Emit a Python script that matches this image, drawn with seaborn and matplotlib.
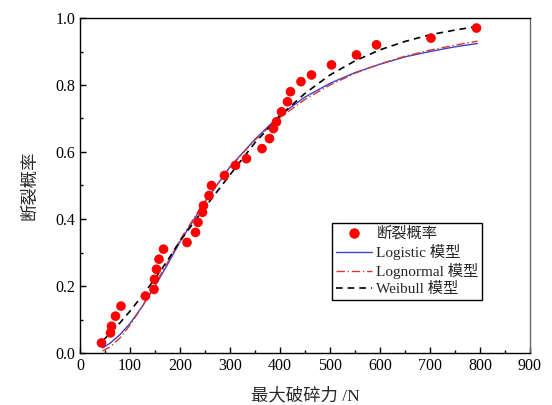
import numpy as np
import pandas as pd
import matplotlib
matplotlib.use("Agg")
import matplotlib.pyplot as plt
import seaborn as sns
from matplotlib.ticker import MultipleLocator
from matplotlib.lines import Line2D

# ---- data ----
force = [43, 61, 63, 71, 82, 131, 148, 149, 153, 158, 167, 214, 231, 236, 245, 247,
         258, 263, 289, 311, 333, 364, 379, 387, 393, 403, 415, 421, 442, 463, 503,
         553, 593, 702, 793]
prob = [0.03, 0.06, 0.08, 0.11, 0.14, 0.17, 0.19, 0.22, 0.25, 0.28, 0.31, 0.33, 0.36,
        0.39, 0.42, 0.44, 0.47, 0.50, 0.53, 0.56, 0.58, 0.61, 0.64, 0.67, 0.69, 0.72,
        0.75, 0.78, 0.81, 0.83, 0.86, 0.89, 0.92, 0.94, 0.97]

curve_x = [45, 60, 80, 100, 125, 150, 175, 200, 250, 300, 350, 400, 450, 500, 550,
           600, 650, 700, 750, 795]
logistic_y = [0.015, 0.029, 0.055, 0.088, 0.140, 0.200, 0.264, 0.332, 0.451, 0.556,
              0.638, 0.710, 0.764, 0.805, 0.837, 0.862, 0.884, 0.900, 0.914, 0.924]
lognormal_y = [0.006, 0.018, 0.045, 0.083, 0.140, 0.205, 0.270, 0.338, 0.453, 0.554,
               0.636, 0.703, 0.757, 0.800, 0.835, 0.863, 0.886, 0.904, 0.919, 0.931]
weibull_y = [0.036, 0.058, 0.090, 0.125, 0.172, 0.222, 0.276, 0.334, 0.435, 0.532,
             0.628, 0.708, 0.775, 0.830, 0.872, 0.905, 0.930, 0.950, 0.964, 0.975]

x_ticks = [0, 100, 200, 300, 400, 500, 600, 700, 800, 900]
y_ticks = [0.0, 0.2, 0.4, 0.6, 0.8, 1.0]

labels = ["断裂概率", "Logistic 模型", "Lognormal 模型", "Weibull 模型"]
xlabel = "最大破碎力 /N"
ylabel = "断裂概率"

# ---- styling ----
sns.set_style("ticks")
plt.rcParams['font.family'] = ['Liberation Serif', 'Noto Sans CJK SC', 'DejaVu Sans']
plt.rcParams['axes.unicode_minus'] = False

fig = plt.figure(figsize=(5.52, 4.05), dpi=100)
ax = fig.add_axes([80 / 552, 52 / 405, 450 / 552, 335 / 405])

pts = pd.DataFrame({"x": force, "y": prob})
curves = pd.DataFrame({"x": curve_x, "logistic": logistic_y,
                       "lognormal": lognormal_y, "weibull": weibull_y})

blue = "#4040c8"
red = "#d03a3a"
sns.lineplot(data=curves, x="x", y="logistic", ax=ax, color=blue,
             lw=1.0, linestyle="-")
sns.lineplot(data=curves, x="x", y="lognormal", ax=ax, color=red,
             lw=1.0, linestyle=(0, (6, 2, 1, 2)))
sns.lineplot(data=curves, x="x", y="weibull", ax=ax, color="black",
             lw=1.2, linestyle=(0, (4, 3)))
sns.scatterplot(data=pts, x="x", y="y", ax=ax, color="#ff0000", s=48,
                edgecolor="none", zorder=5)

ax.set_xlim(0, 900)
ax.set_ylim(0, 1.0)
ax.set_xticks(x_ticks)
ax.set_yticks(y_ticks)
ax.set_xticklabels([str(v) for v in x_ticks])
ax.set_yticklabels([f"{v:.1f}" for v in y_ticks])
ax.xaxis.set_minor_locator(MultipleLocator(50))
ax.yaxis.set_minor_locator(MultipleLocator(0.1))
ax.tick_params(which="both", direction="in", top=False, right=False,
               labelsize=11.5, colors="black", width=1.0)
ax.tick_params(which="major", length=4.5)
ax.tick_params(which="minor", length=2.5)
for sp in ax.spines.values():
    sp.set_visible(True)
    sp.set_linewidth(1.0)
    sp.set_color("black")
ax.spines["right"].set_color("#666666")

ax.set_xlabel(xlabel, fontsize=12.5, labelpad=10)
ax.set_ylabel(ylabel, fontsize=12.5, labelpad=12)

handles = [
    Line2D([], [], marker="o", color="#ff0000", linestyle="none", markersize=7.5,
           markeredgecolor="none"),
    Line2D([], [], color=blue, lw=1.0, linestyle="-"),
    Line2D([], [], color=red, lw=1.0, linestyle=(0, (6, 2, 1, 2))),
    Line2D([], [], color="black", lw=1.2, linestyle=(0, (4, 3))),
]
leg = ax.legend(handles, labels, loc="upper left", bbox_to_anchor=(0.56, 0.388),
                fontsize=11, frameon=True, fancybox=False, edgecolor="black",
                framealpha=1, handlelength=2.4, handletextpad=0.25,
                borderpad=0.25, labelspacing=0.2, borderaxespad=0)
leg.get_frame().set_linewidth(1.0)

fig.savefig("out.png", dpi=100)
